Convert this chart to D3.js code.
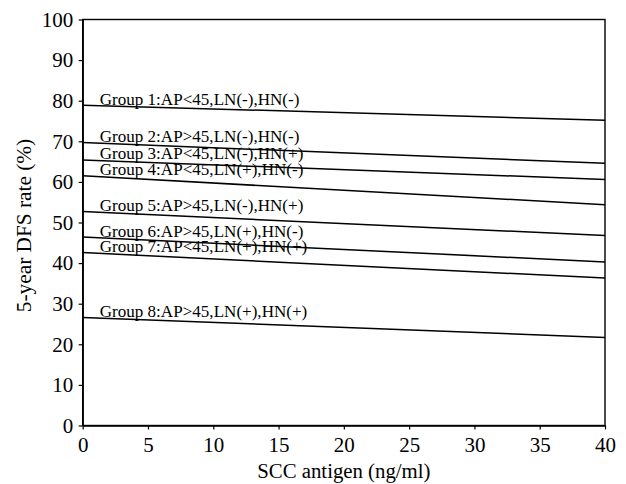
<!DOCTYPE html>
<html>
<head>
<meta charset="utf-8">
<script src="https://cdn.jsdelivr.net/npm/d3@7"></script>
<style>
  html, body { margin: 0; padding: 0; background: #fff; }
  svg { display: block; }
  text { font-family: "Liberation Serif", "Times New Roman", serif; fill: #000; }
</style>
</head>
<body>
<svg id="chart" width="626" height="484"></svg>
<script>
// ---- data ----
const groupLabels = [
  "Group 1:AP<45,LN(-),HN(-)",
  "Group 2:AP>45,LN(-),HN(-)",
  "Group 3:AP<45,LN(-),HN(+)",
  "Group 4:AP<45,LN(+),HN(-)",
  "Group 5:AP>45,LN(-),HN(+)",
  "Group 6:AP>45,LN(+),HN(-)",
  "Group 7:AP<45,LN(+),HN(+)",
  "Group 8:AP>45,LN(+),HN(+)"
];
const sccRange = [0, 40];
const dfsAtStart = [78.9, 69.7, 65.4, 61.5, 52.7, 46.4, 42.6, 26.6];
const dfsAtEnd   = [75.2, 64.6, 60.6, 54.4, 46.8, 40.3, 36.3, 21.7];
const xTicks = [0, 5, 10, 15, 20, 25, 30, 35, 40];
const yTicks = [0, 10, 20, 30, 40, 50, 60, 70, 80, 90, 100];
const xTitle = "SCC antigen (ng/ml)";
const yTitle = "5-year DFS rate (%)";

// ---- layout ----
const svg = d3.select("#chart");
const pLeft = 82.7, pRight = 605, pTop = 19.5, pBottom = 425.5;
const FONT = "'Liberation Serif', 'Times New Roman', serif";

const x = d3.scaleLinear().domain(sccRange).range([pLeft, pRight]);
const y = d3.scaleLinear().domain([0, 100]).range([pBottom, pTop]);

// frame
svg.append("rect")
  .attr("x", pLeft).attr("y", pTop)
  .attr("width", pRight - pLeft).attr("height", pBottom - pTop)
  .attr("fill", "none").attr("stroke", "#000").attr("stroke-width", 1.4);

// y axis
const tsx = 1.05;
const yAxis = svg.append("g")
  .attr("transform", `translate(${pLeft},0)`)
  .attr("font-family", FONT)
  .call(d3.axisLeft(y).tickValues(yTicks).tickSize(4).tickSizeOuter(0));
yAxis.select(".domain").attr("stroke", "#000").attr("stroke-width", 1.4);
yAxis.selectAll(".tick line").attr("stroke", "#000").attr("stroke-width", 1.2);
yAxis.selectAll(".tick text")
  .style("font-family", FONT)
  .attr("font-size", 20)
  .attr("x", -9.5 / tsx)
  .attr("dy", "0.34em")
  .attr("transform", `scale(${tsx},1)`);

// x axis
const xAxis = svg.append("g")
  .attr("transform", `translate(0,${pBottom})`)
  .attr("font-family", FONT)
  .call(d3.axisBottom(x).tickValues(xTicks).tickSize(4).tickSizeOuter(0));
xAxis.select(".domain").attr("stroke", "#000").attr("stroke-width", 1.4);
xAxis.selectAll(".tick line").attr("stroke", "#000").attr("stroke-width", 1.2);
xAxis.selectAll(".tick text")
  .style("font-family", FONT)
  .attr("font-size", 20)
  .attr("x", 0)
  .attr("y", 12.5)
  .attr("dy", "0.72em")
  .attr("transform", `scale(${tsx},1)`);

// lines
const lineGen = d3.line().x(d => x(d[0])).y(d => y(d[1]));
const series = groupLabels.map((lab, i) => ({
  label: lab,
  pts: [[sccRange[0], dfsAtStart[i]], [sccRange[1], dfsAtEnd[i]]]
}));

svg.append("g").selectAll("path")
  .data(series).join("path")
  .attr("d", d => lineGen(d.pts))
  .attr("fill", "none")
  .attr("stroke", "#000")
  .attr("stroke-width", 1.5);

// group labels
const gsx = 1.035;
svg.append("g").selectAll("text")
  .data(series).join("text")
  .attr("transform", d => `translate(${x(sccRange[0]) + 17},${y(d.pts[0][1]) - 0.5}) scale(${gsx},1)`)
  .style("font-family", FONT)
  .attr("font-size", 16.5)
  .text(d => d.label);

// axis titles
const ttsx = 1.04;
svg.append("text")
  .attr("transform", `translate(${(pLeft + pRight) / 2},478) scale(${ttsx},1)`)
  .attr("text-anchor", "middle")
  .style("font-family", FONT)
  .attr("font-size", 20)
  .text(xTitle);

svg.append("text")
  .attr("transform", `translate(31,${(pTop + pBottom) / 2 + 3}) rotate(-90) scale(${ttsx},1)`)
  .attr("text-anchor", "middle")
  .style("font-family", FONT)
  .attr("font-size", 20.5)
  .text(yTitle);
</script>
</body>
</html>
